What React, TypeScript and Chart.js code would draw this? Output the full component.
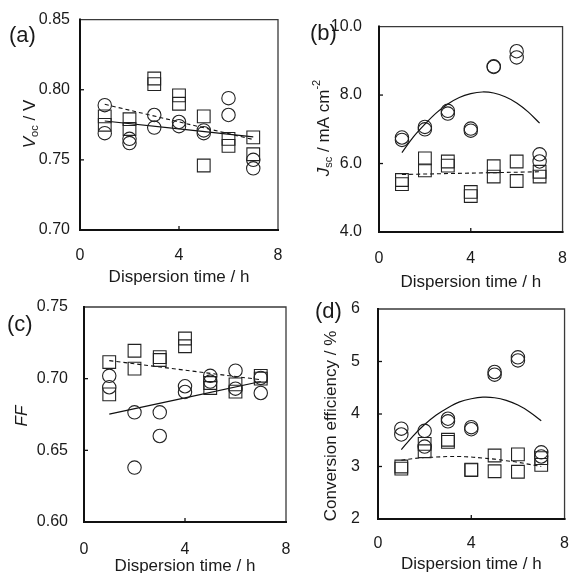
import React, { useEffect, useRef } from "react";
import { Chart, registerables } from "chart.js";

Chart.register(...registerables);

const FONT = '"Liberation Sans", Arial, Helvetica, sans-serif';
const PAGE_W = 584;
const PAGE_H = 573;

// Dispersion time of each cell (two replicate cells per time)
const hours = [1, 1, 2, 2, 3, 3, 4, 4, 5, 5, 6, 6, 7, 7];
const fitHours = [1, 7];
const curveHours = [1, 1.5, 2, 2.5, 3, 3.5, 4, 4.5, 5, 5.5, 6, 6.5, 7];
const xTickValues = [0, 4, 8];

// (a) Voc / V
const vocTicks = [0.7, 0.75, 0.8, 0.85];
const vocCircles = [0.789, 0.769, 0.765, 0.762, 0.782, 0.773, 0.777, 0.774, 0.771, 0.769, 0.794, 0.782, 0.75, 0.744];
const vocSquares = [0.781, 0.775, 0.779, 0.772, 0.808, 0.804, 0.796, 0.79, 0.781, 0.746, 0.765, 0.76, 0.766, 0.754];
const vocSolidFit = [0.7777, 0.7664];
const vocDashedFit = [0.7896, 0.7645];

// (b) Jsc / mA cm-2
const jscTicks = [4, 6, 8, 10];
const jscCircles = [6.76, 6.69, 7.07, 7.0, 7.54, 7.46, 7.02, 6.96, 8.84, 8.82, 9.28, 9.1, 6.27, 6.06];
const jscSquares = [5.52, 5.4, 6.15, 5.8, 6.06, 5.94, 5.17, 5.05, 5.92, 5.62, 6.06, 5.49, 5.76, 5.62];
const jscSolidCurve = [6.32, 6.78, 7.15, 7.48, 7.74, 7.93, 8.04, 8.09, 8.06, 7.95, 7.77, 7.51, 7.18];
const jscDashedFit = [5.68, 5.76];

// (c) FF
const ffTicks = [0.6, 0.65, 0.7, 0.75];
const ffCircles = [0.702, 0.694, 0.6765, 0.638, 0.6765, 0.66, 0.6947, 0.6907, 0.702, 0.698, 0.7056, 0.693, 0.7005, 0.69];
const ffSquares = [0.7116, 0.689, 0.7195, 0.707, 0.715, 0.713, 0.728, 0.7226, 0.697, 0.6935, 0.696, 0.691, 0.702, 0.7];
const ffSolidFit = [0.6753, 0.698];
const ffDashedFit = [0.7126, 0.6993];

// (d) Conversion efficiency / %
const effTicks = [2, 3, 4, 5, 6];
const effCircles = [3.72, 3.61, 3.68, 3.38, 3.91, 3.86, 3.75, 3.71, 4.8, 4.75, 5.08, 5.02, 3.27, 3.19];
const effSquares = [3.0, 2.96, 3.43, 3.29, 3.51, 3.47, 2.94, 2.93, 3.21, 2.91, 3.23, 2.9, 3.16, 3.03];
const effSolidCurve = [3.32, 3.58, 3.8, 3.98, 4.12, 4.23, 4.29, 4.32, 4.31, 4.26, 4.17, 4.04, 3.87];
const effDashedCurve = [3.12, 3.15, 3.17, 3.18, 3.19, 3.19, 3.18, 3.16, 3.14, 3.11, 3.08, 3.04, 3.0];

type Seg = { t: string; italic?: boolean; scale?: number; shift?: number };

type Panel = {
  key: string;
  label: string;
  labelX: number;
  labelY: number;
  area: { left: number; top: number; right: number; bottom: number };
  yTicks: number[];
  yDec: number;
  yPad: number;
  circles: number[];
  squares: number[];
  solidX: number[];
  solidY: number[];
  dashedX: number[];
  dashedY: number[];
  yTitle: Seg[];
  yTitleX: number;
  yTitleY: number;
  xPad: number;
  xTitleBase: number;
};

const panels: Panel[] = [
  {
    key: "a", label: "(a)", labelX: 9, labelY: 42,
    area: { left: 80, top: 17, right: 278, bottom: 230 },
    yTicks: vocTicks, yDec: 2, yPad: 10, circles: vocCircles, squares: vocSquares,
    solidX: fitHours, solidY: vocSolidFit, dashedX: fitHours, dashedY: vocDashedFit,
    yTitle: [{ t: "V", italic: true }, { t: "oc", scale: 0.65, shift: 0.3 }, { t: " / V" }],
    yTitleX: 30, yTitleY: 124, xPad: 16, xTitleBase: 282,
  },
  {
    key: "b", label: "(b)", labelX: 310, labelY: 40,
    area: { left: 379, top: 19, right: 577, bottom: 232 },
    yTicks: jscTicks, yDec: 1, yPad: 17, circles: jscCircles, squares: jscSquares,
    solidX: curveHours, solidY: jscSolidCurve, dashedX: fitHours, dashedY: jscDashedFit,
    yTitle: [{ t: "J", italic: true }, { t: "sc", scale: 0.65, shift: 0.3 }, { t: " / mA cm" }, { t: "-2", scale: 0.65, shift: -0.4 }],
    yTitleX: 324, yTitleY: 128, xPad: 17, xTitleBase: 287,
  },
  {
    key: "c", label: "(c)", labelX: 7, labelY: 331,
    area: { left: 84, top: 307, right: 286, bottom: 522 },
    yTicks: ffTicks, yDec: 2, yPad: 16, circles: ffCircles, squares: ffSquares,
    solidX: fitHours, solidY: ffSolidFit, dashedX: fitHours, dashedY: ffDashedFit,
    yTitle: [{ t: "FF", italic: true }],
    yTitleX: 22, yTitleY: 416, xPad: 18, xTitleBase: 571,
  },
  {
    key: "d", label: "(d)", labelX: 315, labelY: 318,
    area: { left: 378, top: 309, right: 580, bottom: 519 },
    yTicks: effTicks, yDec: 0, yPad: 18, circles: effCircles, squares: effSquares,
    solidX: curveHours, solidY: effSolidCurve, dashedX: curveHours, dashedY: effDashedCurve,
    yTitle: [{ t: "Conversion efficiency / %" }],
    yTitleX: 331, yTitleY: 426, xPad: 15, xTitleBase: 569,
  },
];

const TEXT = "#1a1a1a";
const MARK = "#222";

function drawRich(ctx: CanvasRenderingContext2D, segs: Seg[], cx: number, cy: number, rotate: boolean, size: number) {
  ctx.save();
  ctx.translate(cx, cy);
  if (rotate) ctx.rotate(-Math.PI / 2);
  ctx.textBaseline = "middle";
  ctx.textAlign = "left";
  ctx.fillStyle = TEXT;
  const fonts = segs.map((s) => `${s.italic ? "italic " : ""}${Math.round(size * (s.scale ?? 1))}px ${FONT}`);
  let total = 0;
  const widths = segs.map((s, i) => {
    ctx.font = fonts[i];
    const w = ctx.measureText(s.t).width;
    total += w;
    return w;
  });
  let x = -total / 2;
  segs.forEach((s, i) => {
    ctx.font = fonts[i];
    ctx.fillText(s.t, x, (s.shift ?? 0) * size);
    x += widths[i];
  });
  ctx.restore();
}

function pts(xs: number[], ys: number[]) {
  return ys.map((y, i) => ({ x: xs[i], y }));
}

function PanelChart({ p }: { p: Panel }) {
  const ref = useRef<HTMLCanvasElement>(null);
  useEffect(() => {
    const canvas = ref.current;
    if (!canvas) return;
    const Y_W = 60;
    const X_H = 40;
    const a = p.area;
    const overlay = {
      id: "overlay" + p.key,
      afterDraw(chart: any) {
        const ctx: CanvasRenderingContext2D = chart.ctx;
        const { left, top, right, bottom } = chart.chartArea;
        ctx.save();
        ctx.lineCap = "square";
        ctx.strokeStyle = "#3a3a3a";
        ctx.lineWidth = 1.3;
        ctx.beginPath();
        ctx.moveTo(left, top);
        ctx.lineTo(right, top);
        ctx.lineTo(right, bottom);
        ctx.stroke();
        ctx.strokeStyle = "#111";
        ctx.lineWidth = 2;
        ctx.beginPath();
        ctx.moveTo(left, top);
        ctx.lineTo(left, bottom);
        ctx.lineTo(right, bottom);
        ctx.stroke();
        ctx.lineWidth = 1.3;
        ctx.lineCap = "butt";
        const ys = chart.scales.y;
        const xs = chart.scales.x;
        ys.ticks.forEach((t: any) => {
          const py = ys.getPixelForValue(t.value);
          if (py > top + 2 && py < bottom - 2) {
            ctx.beginPath();
            ctx.moveTo(left, py);
            ctx.lineTo(left + 4, py);
            ctx.stroke();
          }
        });
        xs.ticks.forEach((t: any) => {
          const px = xs.getPixelForValue(t.value);
          if (px > left + 2 && px < right - 2) {
            ctx.beginPath();
            ctx.moveTo(px, bottom);
            ctx.lineTo(px, bottom - 4);
            ctx.stroke();
          }
        });
        // axis titles
        drawRich(ctx, p.yTitle, p.yTitleX, p.yTitleY, true, 17);
        ctx.fillStyle = TEXT;
        ctx.font = `17px ${FONT}`;
        ctx.textAlign = "center";
        ctx.textBaseline = "alphabetic";
        ctx.fillText("Dispersion time / h", (left + right) / 2, p.xTitleBase);
        // panel label
        ctx.font = `22px ${FONT}`;
        ctx.textAlign = "left";
        ctx.fillText(p.label, p.labelX, p.labelY);
        ctx.restore();
      },
    };

    const tickFont = { family: FONT, size: 16 };
    const chart = new Chart(canvas, {
      type: "scatter",
      data: {
        datasets: [
          {
            data: pts(hours, p.circles),
            pointStyle: "circle",
            pointRadius: 6.7,
            borderColor: MARK,
            backgroundColor: "rgba(0,0,0,0)",
            borderWidth: 1.1,
          },
          {
            data: pts(hours, p.squares),
            pointStyle: "rect",
            pointRadius: 9,
            borderColor: MARK,
            backgroundColor: "rgba(0,0,0,0)",
            borderWidth: 1.1,
          },
          {
            data: pts(p.solidX, p.solidY),
            showLine: true,
            pointRadius: 0,
            borderColor: "#111",
            borderWidth: 1.2,
            tension: 0.35,
            fill: false,
          },
          {
            data: pts(p.dashedX, p.dashedY),
            showLine: true,
            pointRadius: 0,
            borderColor: "#111",
            borderWidth: 1.1,
            borderDash: [4, 3],
            tension: 0.35,
            fill: false,
          },
        ],
      } as any,
      options: {
        responsive: false,
        animation: false,
        devicePixelRatio: 1,
        events: [],
        layout: {
          padding: {
            left: a.left - Y_W,
            top: a.top,
            right: PAGE_W - a.right,
            bottom: PAGE_H - a.bottom - X_H,
          },
        },
        plugins: { legend: { display: false }, tooltip: { enabled: false } },
        scales: {
          x: {
            type: "linear",
            min: 0,
            max: 8,
            afterBuildTicks: (s: any) => {
              s.ticks = xTickValues.map((v) => ({ value: v }));
            },
            afterFit: (s: any) => {
              s.height = X_H;
            },
            grid: { display: false, drawTicks: false },
            border: { display: false },
            ticks: {
              padding: p.xPad,
              font: tickFont,
              color: TEXT,
              maxRotation: 0,
              autoSkip: false,
              callback: (v: any) => String(v),
            },
          },
          y: {
            type: "linear",
            min: p.yTicks[0],
            max: p.yTicks[p.yTicks.length - 1],
            afterBuildTicks: (s: any) => {
              s.ticks = p.yTicks.map((v) => ({ value: v }));
            },
            afterFit: (s: any) => {
              s.width = Y_W;
            },
            grid: { display: false, drawTicks: false },
            border: { display: false },
            ticks: {
              padding: p.yPad,
              font: tickFont,
              color: TEXT,
              autoSkip: false,
              callback: (v: any) => Number(v).toFixed(p.yDec),
            },
          },
        },
      } as any,
      plugins: [overlay],
    });
    return () => chart.destroy();
  }, [p]);
  return (
    <canvas
      ref={ref}
      width={PAGE_W}
      height={PAGE_H}
      style={{ position: "absolute", left: 0, top: 0, width: PAGE_W, height: PAGE_H }}
    />
  );
}

export default function App() {
  return (
    <div style={{ position: "absolute", left: 0, top: 0, width: PAGE_W, height: PAGE_H, background: "#fff" }}>
      {panels.map((p) => (
        <PanelChart key={p.key} p={p} />
      ))}
    </div>
  );
}
